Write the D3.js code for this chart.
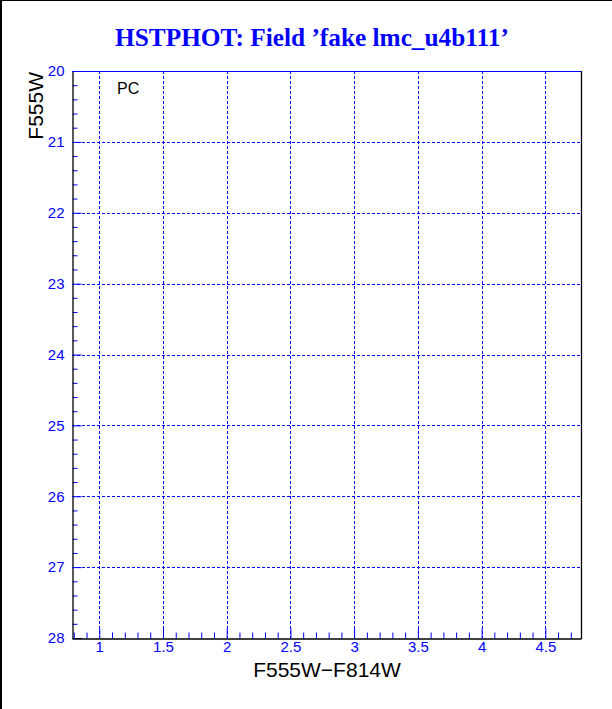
<!DOCTYPE html>
<html>
<head>
<meta charset="utf-8">
<script src="https://cdn.jsdelivr.net/npm/d3@7"></script>
<style>
  body { margin: 0; background: #fff; }
  svg { display: block; }
</style>
</head>
<body>
<svg></svg>
<script>
// chart content (empty CMD, only the frame)
const title = "HSTPHOT: Field \u2019fake lmc_u4b111\u2019";
const xLabel = "F555W\u2212F814W";
const yLabel = "F555W";
const cameraLabel = "PC";

const xDomain = [0.786, 4.78];
const yDomain = [20, 28];
const xMajorTicks = [1, 1.5, 2, 2.5, 3, 3.5, 4, 4.5];
const yMajorTicks = [20, 21, 22, 23, 24, 25, 26, 27, 28];
const xMinorStep = 0.1;
const yMinorStep = 0.2;

const width = 612, height = 709;
const margin = { top: 71, right: 31, bottom: 71, left: 72 };
const blue = "#0000ff";
const sans = "'Liberation Sans', Arial, sans-serif";

const svg = d3.select("svg")
  .attr("width", width)
  .attr("height", height)
  .style("font-family", sans);

const x = d3.scaleLinear()
  .domain(xDomain)
  .range([margin.left, width - margin.right]);

const y = d3.scaleLinear()
  .domain(yDomain)
  .range([margin.top, height - margin.bottom]);

const xMinor = d3.range(0.8, xDomain[1], xMinorStep).map(d => +d.toFixed(1))
  .filter(d => !xMajorTicks.includes(d));
const yMinor = d3.range(yDomain[0], yDomain[1], yMinorStep).map(d => +d.toFixed(1))
  .filter(d => !yMajorTicks.includes(d));

// window frame (top and left edges only)
svg.append("line").attr("x1", 0).attr("x2", width).attr("y1", 0.5).attr("y2", 0.5)
  .attr("stroke", "#000").attr("stroke-width", 1);
svg.append("line").attr("x1", 1).attr("x2", 1).attr("y1", 0).attr("y2", height)
  .attr("stroke", "#000").attr("stroke-width", 2);

// grid
const grid = svg.append("g")
  .attr("stroke", blue)
  .attr("stroke-width", 1)
  .attr("stroke-dasharray", "3,2");

grid.selectAll(".vgrid")
  .data(xMajorTicks)
  .enter().append("line")
  .attr("x1", d => Math.round(x(d)) + 0.5)
  .attr("x2", d => Math.round(x(d)) + 0.5)
  .attr("y1", y(yDomain[0]))
  .attr("y2", y(yDomain[1]));

grid.selectAll(".hgrid")
  .data(yMajorTicks.slice(1, -1))
  .enter().append("line")
  .attr("x1", x(xDomain[0]))
  .attr("x2", x(xDomain[1]))
  .attr("y1", d => Math.round(y(d)) + 0.5)
  .attr("y2", d => Math.round(y(d)) + 0.5);

// top edge (blue) and right edge (black)
svg.append("line")
  .attr("x1", x(xDomain[0])).attr("x2", x(xDomain[1]))
  .attr("y1", y(yDomain[0]) + 0.5).attr("y2", y(yDomain[0]) + 0.5)
  .attr("stroke", blue);
svg.append("line")
  .attr("x1", Math.round(x(xDomain[1])) + 0.5).attr("x2", Math.round(x(xDomain[1])) + 0.5)
  .attr("y1", y(yDomain[0])).attr("y2", y(yDomain[1]) + 1)
  .attr("stroke", "#000").attr("stroke-width", 1.3);

// Y axis: major + minor ticks pointing inward
const yAxis = svg.append("g")
  .attr("transform", `translate(${Math.round(x(xDomain[0])) + 0.5},0)`);
yAxis.append("g")
  .call(d3.axisLeft(y).tickValues(yMinor).tickSize(-5).tickFormat(""))
  .call(g => g.select(".domain").remove());
yAxis.append("g")
  .call(d3.axisLeft(y).tickValues(yMajorTicks).tickSize(-9).tickSizeOuter(0).tickPadding(8))
  .call(g => g.select(".domain").attr("stroke", "#000").attr("stroke-width", 1.3));
yAxis.selectAll(".tick line").attr("stroke", blue);
yAxis.selectAll(".tick text")
  .attr("fill", blue)
  .style("font-family", sans)
  .style("font-size", "15px")
  .attr("x", -8);

// X axis: major + minor ticks pointing up
const xAxis = svg.append("g")
  .attr("transform", `translate(0,${Math.round(y(yDomain[1])) + 0.5})`);
xAxis.append("g")
  .call(d3.axisBottom(x).tickValues(xMinor).tickSize(-6).tickFormat(""))
  .call(g => g.select(".domain").remove());
xAxis.append("g")
  .call(d3.axisBottom(x).tickValues(xMajorTicks).tickSize(-10).tickSizeOuter(0).tickPadding(4)
    .tickFormat(d3.format("~g")))
  .call(g => g.select(".domain").attr("stroke", "#000").attr("stroke-width", 1.3));
xAxis.selectAll(".tick line").attr("stroke", blue);
xAxis.selectAll(".tick text")
  .attr("fill", blue)
  .style("font-family", sans)
  .style("font-size", "15px")
  .attr("y", 3);

// X axis title
svg.append("text")
  .attr("x", 327)
  .attr("y", 677)
  .attr("text-anchor", "middle")
  .attr("fill", "#000")
  .style("font-size", "21px")
  .text(xLabel);

// Y axis title
svg.append("text")
  .attr("transform", `translate(43,72) rotate(-90)`)
  .attr("text-anchor", "end")
  .attr("fill", "#000")
  .style("font-size", "21px")
  .text(yLabel);

// camera label
svg.append("text")
  .attr("x", 117)
  .attr("y", 94)
  .attr("fill", "#000")
  .style("font-size", "16px")
  .text(cameraLabel);

// title
svg.append("text")
  .attr("x", 312)
  .attr("y", 46)
  .attr("text-anchor", "middle")
  .attr("fill", blue)
  .style("font-family", "'Liberation Serif', 'Times New Roman', serif")
  .style("font-weight", "bold")
  .style("font-size", "25.3px")
  .text(title);
</script>
</body>
</html>
